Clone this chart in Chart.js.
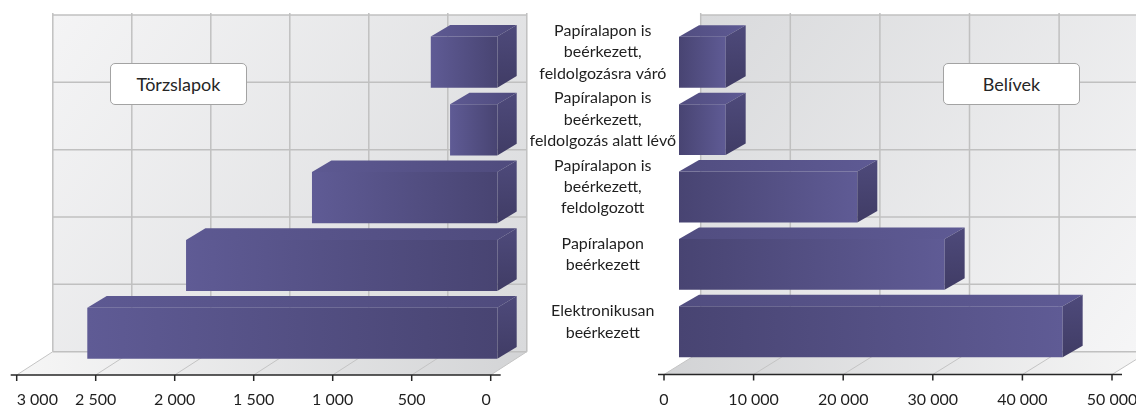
<!DOCTYPE html>
<html><head><meta charset="utf-8">
<script src="https://cdn.jsdelivr.net/npm/chart.js@4.4.1/dist/chart.umd.min.js"></script>
<style>
html,body{margin:0;padding:0;background:#fff;overflow:hidden;width:1136px;height:406px;}
#wrapL{position:absolute;left:0;top:0;width:530px;height:406px;}
#wrapR{position:absolute;left:530px;top:0;width:606px;height:406px;}
.tbox{position:absolute;top:62.5px;height:42px;box-sizing:border-box;border:1px solid #a3a3a3;border-radius:5px;background:#fff;font:18px Lato,sans-serif;color:#262626;display:flex;align-items:center;justify-content:center;}
</style></head><body>
<div id="wrapL"><canvas id="cL" width="530" height="406"></canvas></div>
<div id="wrapR"><canvas id="cR" width="606" height="406"></canvas></div>
<div class="tbox" id="tL" style="left:110px;width:137px;"></div>
<div class="tbox" id="tR" style="left:943px;width:137px;"></div>
<script>
// ---- data ----
const categories = [
  ['Papíralapon is', 'beérkezett,', 'feldolgozásra váró'],
  ['Papíralapon is', 'beérkezett,', 'feldolgozás alatt lévő'],
  ['Papíralapon is', 'beérkezett,', 'feldolgozott'],
  ['Papíralapon', 'beérkezett'],
  ['Elektronikusan', 'beérkezett']
];
const torzslapokValues = [421, 299, 1173, 1970, 2595];
const belivekValues = [5210, 5210, 19900, 29650, 42820];
const torzslapokTicks = ['0', '500', '1 000', '1 500', '2 000', '2 500', '3 000'];
const belivekTicks = ['0', '10 000', '20 000', '30 000', '40 000', '50 000'];
const chartTitles = ['Törzslapok', 'Belívek'];

document.getElementById('tL').textContent = chartTitles[0];
document.getElementById('tR').textContent = chartTitles[1];

const FONT = 'Lato';
const TXT = '#1f1f1f';

function make3D(cfg) {
  return {
    id: 'threeD',
    beforeDatasetsDraw(chart) {
      const {ctx, chartArea: a, scales: {x}} = chart;
      const n = categories.length;
      const bk = cfg.back, fr = cfg.front;
      const wTop = a.top + bk.dyTop, wBot = a.bottom + bk.dyBot;
      const band = (wBot - wTop) / n;
      const p0 = x.getPixelForValue(x.min), p1 = x.getPixelForValue(x.max);
      const xl = Math.min(p0, p1), xr = Math.max(p0, p1);
      const fy = a.bottom + fr.dy;
      ctx.save();
      // back wall
      let g = ctx.createLinearGradient(xl + bk.dx, wTop, xr + bk.dx, wBot);
      g.addColorStop(0, cfg.wall[0]); g.addColorStop(1, cfg.wall[1]);
      ctx.fillStyle = g;
      ctx.fillRect(xl + bk.dx, wTop, xr - xl, wBot - wTop);
      // floor
      g = ctx.createLinearGradient(xl + fr.dx, 0, xr + bk.dx, 0);
      g.addColorStop(0, cfg.floor[0]); g.addColorStop(1, cfg.floor[1]);
      ctx.fillStyle = g;
      ctx.beginPath();
      ctx.moveTo(xl + fr.dx, fy);
      ctx.lineTo(xr + fr.dx, fy);
      ctx.lineTo(xr + bk.dx, wBot);
      ctx.lineTo(xl + bk.dx, wBot);
      ctx.closePath();
      ctx.fill();
      // wall grid
      ctx.strokeStyle = '#c0c0c0';
      ctx.lineWidth = 1.5;
      x.ticks.forEach(t => {
        const px = x.getPixelForValue(t.value) + bk.dx;
        ctx.beginPath();
        ctx.moveTo(px, wTop - 2);
        ctx.lineTo(px, wBot);
        ctx.stroke();
      });
      for (let k = 0; k <= n; k++) {
        const yy = wTop + k * band;
        ctx.beginPath();
        ctx.moveTo(xl + bk.dx, yy);
        ctx.lineTo(xr + bk.dx, yy);
        ctx.stroke();
      }
      // floor diagonals
      ctx.strokeStyle = '#c4c4c4';
      ctx.lineWidth = 1;
      x.ticks.forEach(t => {
        const px = x.getPixelForValue(t.value);
        ctx.beginPath();
        ctx.moveTo(px + fr.dx, fy);
        ctx.lineTo(px + bk.dx, wBot);
        ctx.stroke();
      });
      // front axis line + ticks
      ctx.strokeStyle = '#262626';
      ctx.lineWidth = 1.5;
      ctx.beginPath();
      ctx.moveTo(xl + fr.dx - 6, fy);
      ctx.lineTo(xr + fr.dx + 10, fy);
      ctx.stroke();
      x.ticks.forEach(t => {
        const px = x.getPixelForValue(t.value) + fr.dx;
        ctx.beginPath();
        ctx.moveTo(px, fy);
        ctx.lineTo(px, fy + 6);
        ctx.stroke();
      });
      ctx.restore();
    },
    afterDatasetsDraw(chart) {
      const {ctx} = chart;
      const d = cfg.depth;
      chart.getDatasetMeta(0).data.forEach(bar => {
        const p = bar.getProps(['x', 'y', 'base', 'height'], true);
        const l = Math.min(p.x, p.base), r = Math.max(p.x, p.base);
        const t = p.y - p.height / 2, b = p.y + p.height / 2;
        ctx.save();
        // top face
        let g = ctx.createLinearGradient(l, 0, r + d.dx, 0);
        g.addColorStop(0, cfg.top[0]); g.addColorStop(1, cfg.top[1]);
        ctx.fillStyle = g;
        ctx.beginPath();
        ctx.moveTo(l, t); ctx.lineTo(r, t);
        ctx.lineTo(r + d.dx, t + d.dy); ctx.lineTo(l + d.dx, t + d.dy);
        ctx.closePath(); ctx.fill();
        // side face
        g = ctx.createLinearGradient(0, t + d.dy, 0, b);
        g.addColorStop(0, '#4e4a7b'); g.addColorStop(1, '#403c65');
        ctx.fillStyle = g;
        ctx.beginPath();
        ctx.moveTo(r, t); ctx.lineTo(r + d.dx, t + d.dy);
        ctx.lineTo(r + d.dx, b + d.dy); ctx.lineTo(r, b);
        ctx.closePath(); ctx.fill();
        ctx.restore();
      });
    }
  };
}

function barGradient(dark, light) {
  return c => {
    const chart = c.chart, xs = chart.scales && chart.scales.x;
    if (!xs || c.type !== 'data' || !chart.chartArea) return dark;
    const p0 = xs.getPixelForValue(0), p1 = xs.getPixelForValue(c.raw);
    if (!isFinite(p0) || !isFinite(p1) || p0 === p1) return dark;
    const g = chart.ctx.createLinearGradient(p0, 0, p1, 0);
    g.addColorStop(0, dark); g.addColorStop(1, light);
    return g;
  };
}

function buildChart(id, values, tickLabels, max, step, opts) {
  return new Chart(document.getElementById(id), {
    type: 'bar',
    data: {
      labels: categories,
      datasets: [{
        data: values,
        backgroundColor: barGradient('#484472', '#5f5b95'),
        borderWidth: 0,
        barPercentage: 1,
        categoryPercentage: opts.catPct
      }]
    },
    options: {
      indexAxis: 'y',
      responsive: false,
      animation: false,
      events: [],
      layout: {padding: opts.padding},
      plugins: {legend: {display: false}, tooltip: {enabled: false}},
      scales: {
        x: {
          type: 'linear', min: 0, max: max, reverse: opts.reverse,
          grid: {display: false, drawTicks: false}, border: {display: false},
          afterBuildTicks: s => { if (opts.reverse) s.ticks.reverse(); },
          ticks: {
            stepSize: step, autoSkip: false, maxRotation: 0,
            padding: opts.xPad, labelOffset: opts.labelOffset, align: opts.align,
            color: TXT, font: {family: FONT, size: 16},
            callback: v => tickLabels[Math.round(v / step)]
          },
          afterFit: s => { s.height = opts.xHeight; s.paddingLeft = 0; s.paddingRight = 0; }
        },
        y: {
          display: opts.showY,
          grid: {display: false, drawTicks: false}, border: {display: false},
          ticks: {
            crossAlign: 'center', padding: opts.yPad, labelOffset: -10,
            color: TXT, font: {family: FONT, size: 16, lineHeight: 1.33}
          },
          afterFit: s => { if (opts.showY) s.width = opts.yWidth; s.paddingTop = 0; s.paddingBottom = 0; }
        }
      }
    },
    plugins: [make3D(opts.geo)]
  });
}

buildChart('cL', torzslapokValues, torzslapokTicks, 3000, 500, {
  reverse: true, labelOffset: -6.6, align: 'inner', showY: false, yPad: 0, yWidth: 0,
  padding: {left: 23.3, right: 32.7, top: 28.3, bottom: 0},
  xHeight: 38.9, xPad: 23.4, catPct: 0.755,
  geo: {
    back: {dx: 29.5, dyTop: -13.3, dyBot: -15.4}, front: {dx: -6.6, dy: 7.9},
    depth: {dx: 19.4, dy: -11.7},
    wall: ['#f4f4f5', '#d9dadc'], floor: ['#f6f6f6', '#d3d4d6'],
    top: ['#5d5992', '#4f4b7d']
  }
});

buildChart('cR', belivekValues, belivekTicks, 50000, 10000, {
  reverse: false, labelOffset: -15, align: 'center', showY: true, yPad: 3, yWidth: 149,
  padding: {left: 0, right: 9, top: 28.5, bottom: 0},
  xHeight: 40.5, xPad: 25, catPct: 0.755,
  geo: {
    back: {dx: 21.7, dyTop: -13.5, dyBot: -13.8}, front: {dx: -15, dy: 9},
    depth: {dx: 20, dy: -11.5},
    wall: ['#d9dadc', '#f6f6f7'], floor: ['#d2d3d5', '#f5f5f5'],
    top: ['#514d80', '#5e5a94']
  }
});
</script>
</body></html>
